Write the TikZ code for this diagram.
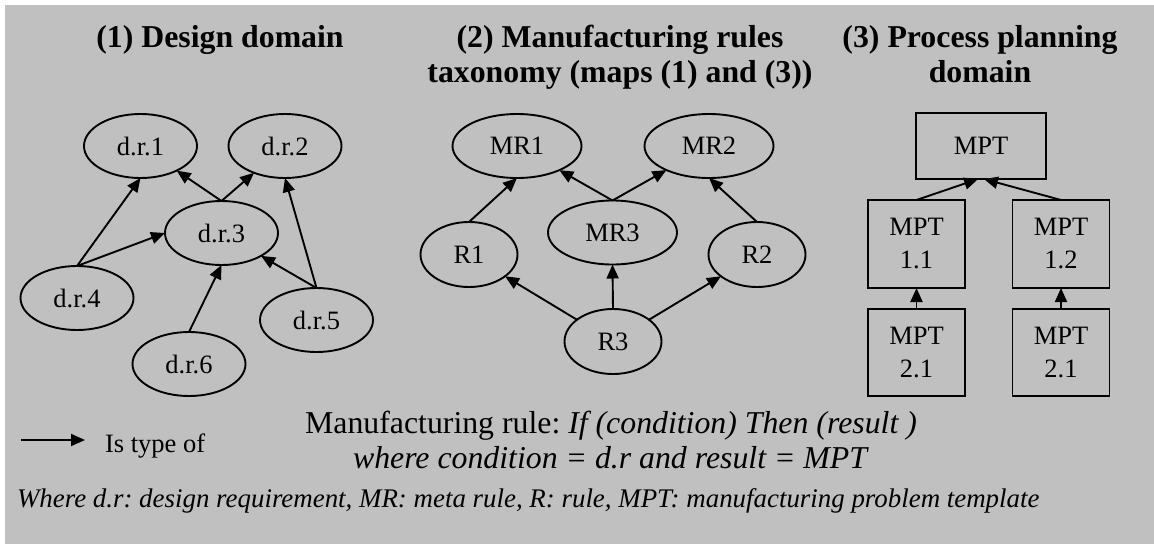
\documentclass[tikz,border=0pt]{standalone}
\usepackage{fontspec}
\setmainfont{Liberation Serif}
\usetikzlibrary{shapes.geometric,arrows.meta}
\definecolor{panelgray}{HTML}{C0C0C0}
\frenchspacing
\begin{document}
\begin{tikzpicture}[x=1pt,y=-1pt,
  every node/.style={inner sep=0pt, outer sep=0pt},
  arr/.style={line width=1.9pt, -{Triangle[length=14pt,width=12pt]}},
  oval/.style={ellipse, draw, line width=1.9pt, font=\fontsize{26.5}{30}\selectfont},
  drnode/.style={oval, minimum width=113pt, minimum height=64pt},
  mrnode/.style={oval, minimum width=129pt, minimum height=64pt},
  rnode/.style={oval, minimum width=97pt, minimum height=65pt},
  mptbox/.style={draw, rectangle, line width=1.9pt, align=center,
    font=\fontsize{26.5}{33}\selectfont},
  title/.style={align=center, font=\fontsize{31.8}{35}\selectfont\bfseries, anchor=base}
]
% page and panel background
\useasboundingbox (0,0) rectangle (1154,544);
\fill[panelgray] (5,5) rectangle (1154,544);

% column headings (base anchor sits on the last line)
\node[title] (t1) at (220,47) {(1) Design domain};
\node[title] (t2) at (620,82) {(2) Manufacturing rules\\taxonomy (maps (1) and (3))};
\node[title] (t3) at (980,82) {(3) Process planning\\domain};

% (1) design requirements
\node[drnode] (d1) at (140.5,146) {d.r.1};
\node[drnode] (d2) at (285,146) {d.r.2};
\node[drnode] (d3) at (221.5,233) {d.r.3};
\node[drnode] (d4) at (77,298) {d.r.4};
\node[drnode] (d5) at (316.5,320) {d.r.5};
\node[drnode] (d6) at (189,364) {d.r.6};
\draw[arr] (d4.north) -- (d1.south);
\draw[arr] (d4.north) -- (d3.west);
\draw[arr] (d3.north) -- (d1);
\draw[arr] (d3.north) -- (d2);
\draw[arr] (d5.north) -- (d2.south);
\draw[arr] (d5.north) -- (d3);
\draw[arr] (d6.north) -- (d3.south);

% (2) rules taxonomy
\node[mrnode] (mr1) at (517,146) {MR1};
\node[mrnode] (mr2) at (709,146) {MR2};
\node[mrnode] (mr3) at (612.5,232.5) {MR3};
\node[rnode] (r1) at (469,254.5) {R1};
\node[rnode] (r2) at (757,254.5) {R2};
\node[rnode] (r3) at (613,341.5) {R3};
\draw[arr] (r1.north) -- (mr1.south);
\draw[arr] (mr3.north) -- (mr1);
\draw[arr] (mr3.north) -- (mr2);
\draw[arr] (r2.north) -- (mr2.south);
\draw[arr] (r3) -- (r1);
\draw[arr] (r3.north) -- (mr3.south);
\draw[arr] (r3) -- (r2);

% (3) process planning templates
\node[mptbox, minimum width=130pt, minimum height=66pt] (mpt) at (981,146) {MPT};
\node[mptbox, minimum width=97pt, minimum height=88pt] (m11) at (916.5,244) {MPT\\1.1};
\node[mptbox, minimum width=97pt, minimum height=88pt] (m12) at (1061,244) {MPT\\1.2};
\node[mptbox, minimum width=97pt, minimum height=87pt] (m21) at (916.5,352.5) {MPT\\2.1};
\node[mptbox, minimum width=97pt, minimum height=87pt] (m22) at (1061,352.5) {MPT\\2.1};
\draw[arr] (m11.north) -- (mpt.-95);
\draw[arr] (m12.north) -- (mpt.-85);
\draw[arr] (m21.north) -- (m11.south);
\draw[arr] (m22.north) -- (m12.south);

% legend
\coordinate (lga) at (21,440);
\coordinate (lgb) at (85,440);
\draw[arr] (lga) -- (lgb);
\node[anchor=base west, font=\fontsize{26.5}{30}\selectfont] (lgt) at (105,452) {Is type of};

% rule statement and abbreviations
\node[anchor=base, align=center, font=\fontsize{31.8}{35}\selectfont] (rule) at (611,468)
  {Manufacturing rule: \textit{If (condition) Then (result )}\\
   \textit{where condition = d.r and result = MPT}};
\node[anchor=base west, font=\fontsize{26.9}{30}\selectfont\itshape] (abbr) at (17,507)
  {Where d.r: design requirement, MR: meta rule, R: rule, MPT: manufacturing problem template};
\end{tikzpicture}
\end{document}
